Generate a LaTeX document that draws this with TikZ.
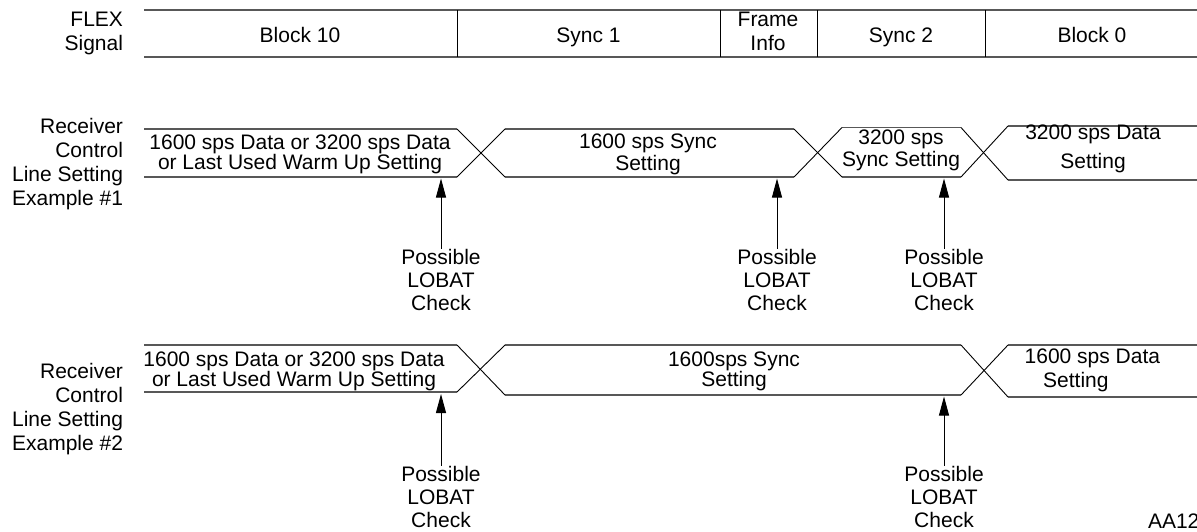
\documentclass[tikz,border=0pt]{standalone}
\usepackage{fontspec}
\setmainfont{Liberation Sans}
\usetikzlibrary{arrows.meta}
\definecolor{lineg}{RGB}{88,88,88}
\begin{document}
\begin{tikzpicture}[x=1pt,y=-1pt,
  txt/.style={font=\fontsize{21}{#1}\selectfont, inner sep=0pt, outer sep=0pt,
    execute at begin node=\strut, execute at end node=\strut},
  ctr/.style={txt=#1, align=center, anchor=north},
  lbl/.style={txt=#1, align=right, anchor=north east},
  hl/.style={draw=lineg, line width=1.6pt},
  vl/.style={draw=black, line width=1pt},
  dg/.style={draw=black, line width=0.9pt},
  arr/.style={draw=black, line width=1pt, -{Triangle[length=19pt,width=10pt]}}]
\useasboundingbox (0,0) rectangle (1197,531);
\fill[white] (0,0) rectangle (1197,531);

% ---------- FLEX signal ----------
\node[lbl=23.8] (flex) at (123,11.8) {FLEX\\Signal};
\draw[hl] (144,10) -- (1197,10);
\draw[hl] (144,57) -- (1197,57);
\foreach \x in {457,720,817,985} \draw[vl] (\x,10) -- (\x,57);
\node[ctr=24] (b10) at (300,25.7) {Block 10};
\node[ctr=24] (s1)  at (588.5,25.7) {Sync 1};
\node[ctr=23.7] (fi) at (768,12) {Frame\\Info};
\node[ctr=24] (s2)  at (901,25.7) {Sync 2};
\node[ctr=24] (b0)  at (1092,25.7) {Block 0};

% ---------- Example 1 ----------
\node[lbl=24] (rx1) at (123,118.2) {Receiver\\Control\\Line Setting\\Example \#1};
% horizontals
\draw[hl] (144,129) -- (457,129);
\draw[hl] (144,177) -- (457,177);
\draw[hl] (505,129) -- (794,129);
\draw[hl] (505,177) -- (794,177);
\draw[hl] (842,127.5) -- (961,127.5);
\draw[hl] (842,177) -- (961,177);
\draw[hl] (1008,126) -- (1197,126);
\draw[hl] (1008,180) -- (1197,180);
% transitions
\draw[dg] (457,129) -- (505,177);
\draw[dg] (457,177) -- (505,129);
\draw[dg] (794,129) -- (842,177);
\draw[dg] (794,177) -- (842,127.5);
\draw[dg] (961,127.5) -- (1008,180);
\draw[dg] (961,177) -- (1008,126);
% texts
\node[ctr=20.3] (e1a) at (300,134.8) {1600 sps Data or 3200 sps Data\\or Last Used Warm Up Setting};
\node[ctr=22] (e1b) at (648,133.6) {1600 sps Sync\\Setting};
\node[ctr=22] (e1c) at (901,130.2) {3200 sps\\Sync Setting};
\node[ctr=29] (e1d) at (1093,125.3) {3200 sps Data\\Setting};
% LOBAT checks
\coordinate (t1a) at (441,178.5);
\coordinate (t1b) at (777,178.5);
\coordinate (t1c) at (944,178.5);
\node[ctr=23] (l1a) at (441,248.9) {Possible\\LOBAT\\Check};
\node[ctr=23] (l1b) at (777,248.9) {Possible\\LOBAT\\Check};
\node[ctr=23] (l1c) at (944,248.9) {Possible\\LOBAT\\Check};
\draw[arr] (l1a.north) -- (t1a);
\draw[arr] (l1b.north) -- (t1b);
\draw[arr] (l1c.north) -- (t1c);

% ---------- Example 2 ----------
\node[lbl=24] (rx2) at (123,363.2) {Receiver\\Control\\Line Setting\\Example \#2};
\draw[hl] (144,345) -- (457,345);
\draw[hl] (144,392) -- (457,392);
\draw[hl] (505,345) -- (961,345);
\draw[hl] (505,395) -- (961,395);
\draw[hl] (1008,345) -- (1197,345);
\draw[hl] (1008,397) -- (1197,397);
\draw[dg] (457,345) -- (505,395);
\draw[dg] (457,392) -- (505,345);
\draw[dg] (961,345) -- (1008,397);
\draw[dg] (961,395) -- (1008,345);
\node[ctr=20.3] (e2a) at (294,351.5) {1600 sps Data or 3200 sps Data\\or Last Used Warm Up Setting};
\node[ctr=20.3] (e2b) at (734,351.5) {1600sps Sync\\Setting};
\node[txt=23.7, align=left, anchor=north west] (e2c) at (1024.7,349.1) {1600 sps Data\\\hspace*{18.5pt}Setting};
\coordinate (t2a) at (441,394);
\coordinate (t2b) at (944,396.5);
\node[ctr=23] (l2a) at (441,465.9) {Possible\\LOBAT\\Check};
\node[ctr=23] (l2b) at (944,465.9) {Possible\\LOBAT\\Check};
\draw[arr] (l2a.north) -- (t2a);
\draw[arr] (l2b.north) -- (t2b);

\node[txt=24, anchor=north west] (aa) at (1148,511.2) {AA12};
\end{tikzpicture}
\end{document}
